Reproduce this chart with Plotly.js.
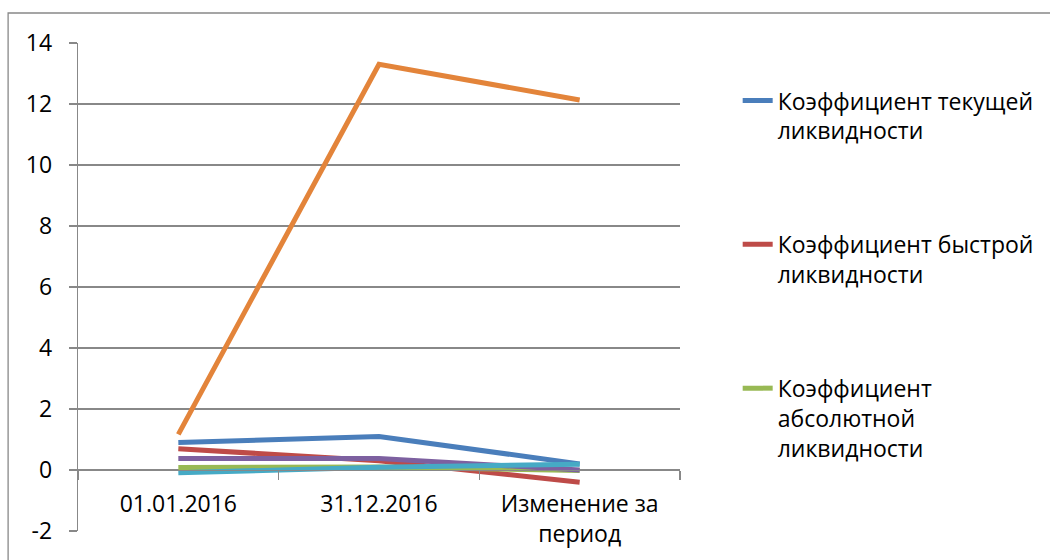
<!DOCTYPE html>
<html>
<head>
<meta charset="utf-8">
<script src="https://cdn.plot.ly/plotly-3.0.1.min.js"></script>
<style>html,body{margin:0;padding:0;background:#fff;}#chart{width:1050px;height:560px;}</style>
</head>
<body>
<div id="chart"></div>
<script>
const categories = ["01.01.2016", "31.12.2016", "Изменение за<br>период"];
const seriesNames = [
  "Коэффициент текущей<br>ликвидности",
  "Коэффициент быстрой<br>ликвидности",
  "Коэффициент<br>абсолютной<br>ликвидности",
  "Ряд 4",
  "Ряд 5",
  "Ряд 6"
];
const currentRatio  = [0.9, 1.1, 0.2];
const quickRatio    = [0.7, 0.3, -0.4];
const absoluteRatio = [0.08, 0.1, -0.02];
const series4       = [0.38, 0.38, 0.0];
const series5       = [-0.09, 0.09, 0.19];
const series6       = [1.17, 13.3, 12.13];
const yTickValues = [-2, 0, 2, 4, 6, 8, 10, 12, 14];
const yTickLabels = ["-2", "0", "2", "4", "6", "8", "10", "12", "14"];

const seriesValues = [currentRatio, quickRatio, absoluteRatio, series4, series5, series6];
const colors = ["#4A7EBB", "#BE4B48", "#98B954", "#7D60A0", "#46AAC5", "#E3843A"];
const showInLegend = [true, true, true, false, false, false];

const FONT = "Open Sans, Noto Sans, sans-serif";
const FS = 23;
const traces = seriesValues.map((vals, i) => ({
  type: "scatter",
  mode: "lines",
  x: categories,
  y: vals,
  name: seriesNames[i],
  legendgroup: "g" + i,
  showlegend: showInLegend[i],
  line: {color: colors[i], width: 5, shape: "linear"},
  hoverinfo: "skip"
}));

const layout = {
  width: 1050,
  height: 560,
  margin: {l: 78, r: 369, t: 43, b: 29},
  paper_bgcolor: "#ffffff",
  plot_bgcolor: "#ffffff",
  font: {family: FONT, size: FS, color: "#000"},
  showlegend: true,
  legend: {
    x: 1.094, y: 0.926, xanchor: "left", yanchor: "top",
    traceorder: "grouped",
    tracegroupgap: 81,
    valign: "top",
    font: {family: FONT, size: FS, color: "#000"},
    bgcolor: "rgba(0,0,0,0)"
  },
  xaxis: {
    type: "category",
    range: [-0.5, 2.5],
    anchor: "free",
    position: 0.125,
    showline: true,
    linecolor: "#888",
    linewidth: 1.3,
    showgrid: false,
    zeroline: false,
    ticks: "outside",
    tickson: "boundaries",
    ticklen: 9,
    tickcolor: "#888",
    tickwidth: 1.3,
    ticklabelstandoff: 13,
    tickfont: {family: FONT, size: FS, color: "#000"},
    fixedrange: true
  },
  yaxis: {
    range: [-2, 14],
    tickmode: "array",
    tickvals: yTickValues,
    ticktext: yTickLabels,
    showline: true,
    linecolor: "#888",
    linewidth: 1.3,
    showgrid: true,
    gridcolor: "#888",
    gridwidth: 1.3,
    zeroline: false,
    ticks: "outside",
    ticklen: 8,
    tickcolor: "#888",
    tickwidth: 1.3,
    ticklabelstandoff: 12,
    tickfont: {family: FONT, size: FS, color: "#000"},
    fixedrange: true
  },
  shapes: [{
    type: "rect", xref: "paper", yref: "paper",
    x0: -0.1161, x1: 2, y0: -0.5, y1: 1.0615,
    line: {color: "#888", width: 1.3},
    fillcolor: "rgba(0,0,0,0)",
    layer: "below"
  }]
};

Plotly.newPlot("chart", traces, layout, {displayModeBar: false, staticPlot: true});
</script>
</body>
</html>
